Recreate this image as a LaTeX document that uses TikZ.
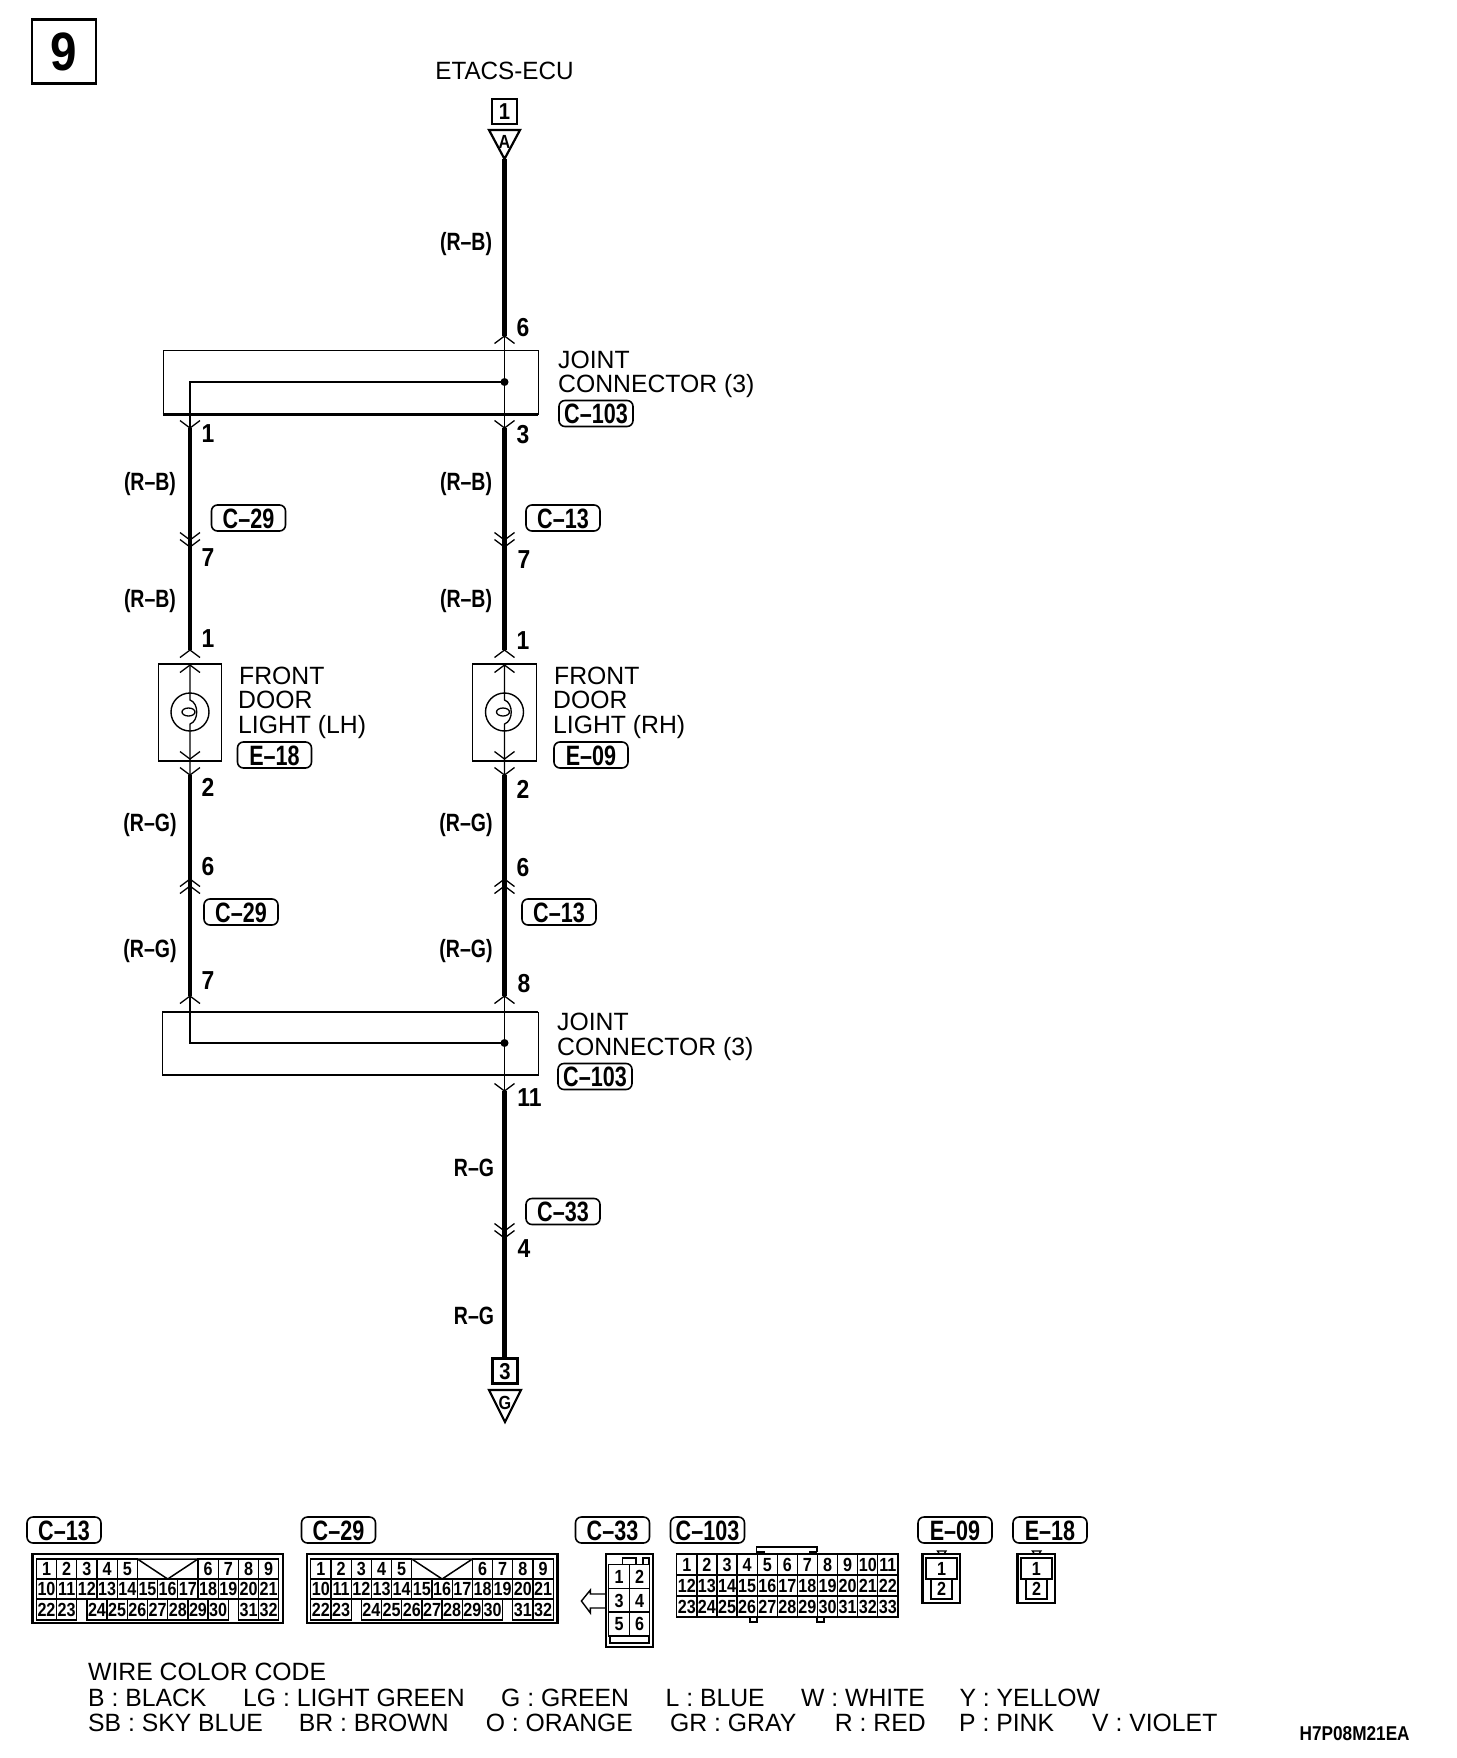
\documentclass[tikz,border=0pt]{standalone}
\usepackage{fontspec}
\setmainfont[FakeStretch=0.99]{Liberation Sans}
\newfontfamily\lbbase[FakeStretch=0.78]{Liberation Sans}
\newfontfamily\pinbase[FakeStretch=0.88]{Liberation Sans}
\newfontfamily\tagbase[FakeStretch=0.77]{Liberation Sans}
\newfontfamily\cellbase[FakeStretch=0.85]{Liberation Sans}
\newfontfamily\etbase[FakeStretch=0.97]{Liberation Sans}
\newfontfamily\codebase[FakeStretch=0.86]{Liberation Sans}
\newcommand\mfont{\fontsize{25pt}{25pt}\selectfont}
\newcommand\efont{\etbase\fontsize{25pt}{25pt}\selectfont}
\newcommand\lbfont{\lbbase\bfseries\fontsize{25pt}{25pt}\selectfont}
\newcommand\pnfont{\pinbase\bfseries\fontsize{26pt}{26pt}\selectfont}
\newcommand\tgfont{\tagbase\bfseries\fontsize{28pt}{28pt}\selectfont}
\newcommand\clfont{\cellbase\bfseries\fontsize{19pt}{19pt}\selectfont}
\newcommand\smfont{\pinbase\bfseries\fontsize{23pt}{23pt}\selectfont}
\newcommand\trfont{\cellbase\bfseries\fontsize{19pt}{19pt}\selectfont}
\newcommand\cdfont{\codebase\bfseries\fontsize{20pt}{20pt}\selectfont}
\newcommand\shfont{\pinbase\bfseries\fontsize{54pt}{54pt}\selectfont}
\tikzset{
  thickw/.style={line width=4.5pt},
  thinw/.style={line width=1.4pt},
  medw/.style={line width=2.4pt},
  txt/.style={inner sep=0pt,anchor=west,font=\mfont,text height=18pt,text depth=0pt},
  lab/.style={inner sep=0pt,font=\lbfont,text height=18pt,text depth=0pt},
  pin/.style={inner sep=0pt,font=\pnfont,text height=18.5pt,text depth=0pt},
  tagbox/.style={draw,line width=1.6pt,rounded corners=6pt,minimum width=74pt,minimum height=26pt,inner sep=0pt,font=\tgfont,text height=20pt,text depth=0pt},
  cell/.style={draw,line width=1.3pt,inner sep=0pt,font=\clfont,text height=13pt,text depth=0pt,minimum width=20.2pt},
  termbox/.style={draw,line width=2.2pt,inner sep=0pt,minimum width=25pt,minimum height=25pt,font=\smfont,text height=16.5pt,text depth=0pt},
  chevd/.pic={\draw[line width=1.3pt] (-10,-7.5)--(0,0)--(10,-7.5);},
  chevu/.pic={\draw[line width=1.3pt] (-10,7.5)--(0,0)--(10,7.5);},
}
\newcommand\wideconn[2]{%
  \begin{scope}[shift={(#2,0)}]
    \draw[line width=2.6pt] (32.5,1554) rectangle (283,1623);
    \draw[line width=1.5pt] (137.4,1559)--(198,1559) (137.4,1559)--(167.7,1579)--(198,1559);
    \foreach \i/\t in {0/1,1/2,2/3,3/4,4/5,8/6,9/7,10/8,11/9}
      \node[cell,minimum height=20pt] (#1-\t) at ({36.4+20.2*(\i+.5)},1569) {\t};
    \foreach \i/\t in {0/10,1/11,2/12,3/13,4/14,5/15,6/16,7/17,8/18,9/19,10/20,11/21}
      \node[cell,minimum height=20pt] (#1-\t) at ({36.4+20.2*(\i+.5)},1589) {\t};
    \foreach \i/\t in {0/22,1/23,2.5/24,3.5/25,4.5/26,5.5/27,6.5/28,7.5/29,8.5/30,10/31,11/32}
      \node[cell,minimum height=21pt] (#1-\t) at ({36.4+20.2*(\i+.5)},1609.5) {\t};
  \end{scope}}
\newcommand\lampsym[2]{%
  \node[draw,line width=1.3pt,minimum width=63.5pt,minimum height=97pt,inner sep=0pt] (#1box) at (#2,712.5) {};
  \node[circle,draw,line width=1.4pt,minimum size=38pt,inner sep=0pt] (#1c) at (#2,712) {};
  \draw[line width=1.3pt] (#2-1.5,712) ellipse [x radius=6.5pt,y radius=4pt];
  \draw[line width=1.3pt] (#2,665) -- (#2,700) .. controls (#2+9,703) and (#2+9,721) .. (#2,724) -- (#2,775);
  \pic at (#2,665) {chevu};
  \pic at (#2,759) {chevd};
}
\begin{document}
\begin{tikzpicture}[x=1pt,y=-1pt]
\useasboundingbox (0,0) rectangle (1456,1758);
\fill[white] (0,0) rectangle (1456,1758);

% sheet number
\node[draw,line width=2.6pt,minimum width=64pt,minimum height=64pt,inner sep=0pt,font=\shfont,text height=38pt,text depth=0pt] (sheet) at (64,51.5) {9};

% top terminal
\node[txt,font=\efont,anchor=center] (ecu) at (504.5,71) {ETACS-ECU};
\node[termbox] (t1) at (504.5,111.5) {1};
\draw[line width=2.2pt,line join=miter] (489,130)--(520,130)--(504.5,159)--cycle;
\node[inner sep=0pt,font=\trfont,text height=14pt,text depth=0pt] (tA) at (504.5,141) {A};

% coordinates on the wires
\foreach \n/\y in {apex/159,six/336,three/428,one/650,two/775,eight/996,eleven/1091,bot/1358}
  \coordinate (r\n) at (504.5,\y);
\foreach \n/\y in {top/382,one/650,two/775,seven/996,bottom/1043,three/428}
  \coordinate (l\n) at (190,\y);

% joint connectors
\node[draw,line width=0.9pt,minimum width=375pt,minimum height=64pt,inner sep=0pt] (jc1) at (350.5,382) {};
\draw[medw] (jc1.south west)--(jc1.south east);
\node[draw,line width=0.9pt,minimum width=375.5pt,minimum height=63pt,inner sep=0pt] (jc2) at (350.25,1043.5) {};
\draw[line width=2pt] (jc2.south west)--(jc2.south east);
\draw[line width=2pt] (jc2.north west)--(jc2.north east);

% wires, right
\draw[thickw] (rapex)--(rsix);
\draw[thinw] (rsix)--(rthree);
\draw[thickw] (rthree)--(rone);
\draw[thickw] (rtwo)--(reight);
\draw[thinw] (reight)--(releven);
\draw[thickw] (releven)--(rbot);
% wires, left
\draw[medw,line join=miter] (ltop-|rsix) -- (ltop) -- (lthree);
\draw[thickw] (lthree)--(lone);
\draw[thickw] (ltwo)--(lseven);
\draw[medw,line join=miter] (lseven)--(lbottom)--(lbottom-|rsix);
\fill (ltop-|rsix) circle [radius=4pt];
\fill (lbottom-|rsix) circle [radius=4pt];
% arrows on joint connectors
\pic at (rsix) {chevu};
\pic at (rthree) {chevd};
\pic at (lthree) {chevd};
\pic at (rone) {chevu};
\pic at (lone) {chevu};
\pic at (rtwo) {chevd};
\pic at (ltwo) {chevd};
\pic at (reight) {chevu};
\pic at (lseven) {chevu};
\pic at (releven) {chevd};
% double chevrons
\foreach \x in {190,504.5}{
  \pic at (\x,540) {chevd};
  \pic at (\x,547) {chevd};
  \pic at (\x,879) {chevu};
  \pic at (\x,886) {chevu};
}
\pic at (504.5,1231) {chevd};
\pic at (504.5,1238) {chevd};

% lamps
\lampsym{lampL}{190}
\lampsym{lampR}{504.5}

% bottom terminal
\node[termbox] (t3) at (505,1371) {3};
\draw[line width=2.2pt,line join=miter] (489,1390)--(521,1390)--(505,1422)--cycle;
\node[inner sep=0pt,font=\trfont,text height=14pt,text depth=0pt] (tG) at (505,1402) {G};

% pin numbers
\node[pin] (n6a) at (523,327) {6};
\node[pin] (n1a) at (208,433) {1};
\node[pin] (n3a) at (523,434) {3};
\node[pin] (n7l) at (208,557) {7};
\node[pin] (n7r) at (524,559) {7};
\node[pin] (n1l) at (208,638) {1};
\node[pin] (n1r) at (523,640) {1};
\node[pin] (n2l) at (208,787) {2};
\node[pin] (n2r) at (523,789) {2};
\node[pin] (n6l) at (208,866) {6};
\node[pin] (n6r) at (523,867) {6};
\node[pin] (n7b) at (208,980) {7};
\node[pin] (n8b) at (524,983) {8};
\node[pin] (n11) at (529.5,1097) {11};
\node[pin] (n4) at (524,1248) {4};

% wire colour labels
\node[lab] (w1) at (466,241) {(R–B)};
\node[lab] (w2) at (150,481.5) {(R–B)};
\node[lab] (w3) at (466,481.5) {(R–B)};
\node[lab] (w4) at (150,598) {(R–B)};
\node[lab] (w5) at (466,598) {(R–B)};
\node[lab] (w6) at (150,822) {(R–G)};
\node[lab] (w7) at (466,822) {(R–G)};
\node[lab] (w8) at (150,948) {(R–G)};
\node[lab] (w9) at (466,948) {(R–G)};
\node[lab] (w10) at (474,1167) {R–G};
\node[lab] (w11) at (474,1315) {R–G};

% component text
\node[txt] (j1a) at (558,359) {JOINT};
\node[txt] (j1b) at (558,383) {CONNECTOR (3)};
\node[txt] (j2a) at (557,1021) {JOINT};
\node[txt] (j2b) at (557,1046) {CONNECTOR (3)};
\node[txt] (fl1) at (239,675) {FRONT};
\node[txt] (fl2) at (238,699) {DOOR};
\node[txt] (fl3) at (238,724) {LIGHT (LH)};
\node[txt] (fr1) at (554,675) {FRONT};
\node[txt] (fr2) at (553,699) {DOOR};
\node[txt] (fr3) at (553,724) {LIGHT (RH)};

% connector tags on the diagram
\node[tagbox] (tj1) at (596,413.5) {C–103};
\node[tagbox] (tj2) at (595,1076.5) {C–103};
\node[tagbox] (tc29a) at (248.5,518) {C–29};
\node[tagbox] (tc13a) at (563,518) {C–13};
\node[tagbox] (te18) at (274.5,755) {E–18};
\node[tagbox] (te09) at (591,755) {E–09};
\node[tagbox] (tc29b) at (241,912) {C–29};
\node[tagbox] (tc13b) at (559,912) {C–13};
\node[tagbox] (tc33a) at (563,1211.5) {C–33};

% connector tags in the key
\node[tagbox] (kc13) at (64,1530) {C–13};
\node[tagbox] (kc29) at (338.5,1530) {C–29};
\node[tagbox] (kc33) at (612.5,1530) {C–33};
\node[tagbox] (kc103) at (707.5,1530) {C–103};
\node[tagbox] (ke09) at (955,1530) {E–09};
\node[tagbox] (ke18) at (1050,1530) {E–18};

% wide connectors
\wideconn{c13}{0}
\wideconn{c29}{274.4}

% C-33
\draw[line width=2.4pt] (605.7,1554) rectangle (653,1647);
\draw[line width=1.5pt] (622.5,1565)--(622.5,1558)--(636,1558)--(636,1565);
\draw[line width=1.5pt] (643,1565)--(643,1558)--(649,1558)--(649,1565);
\foreach \i/\x/\y in {1/619/1576.5,2/639.5/1576.5,3/619/1600.5,4/639.5/1600.5,5/619/1624,6/639.5/1624}
  \node[cell,minimum width=20.5pt,minimum height=24pt] (c33-\i) at (\x,\y) {\i};
\draw[line width=1.5pt] (610,1636)--(610,1643)--(649,1643)--(649,1636);
\draw[line width=1.4pt] (605.7,1594)--(590.4,1594)--(590.4,1590)--(581.4,1601)--(590.4,1613)--(590.4,1608)--(605.7,1608);

% C-103
\draw[line width=1.5pt] (756.4,1552)--(756.4,1547)--(817,1547)--(817,1552) (756.4,1552)--(764,1552)--(764,1554) (817,1552)--(810,1552)--(810,1554);
\draw[line width=1.5pt] (750,1617)--(750,1622)--(757,1622)--(757,1617) (817,1617)--(817,1622)--(824,1622)--(824,1617);
\foreach \n in {1,...,33}{
  \pgfmathtruncatemacro\cc{mod(\n-1,11)}
  \pgfmathtruncatemacro\rr{(\n-1)/11}
  \node[cell,minimum width=20.1pt,minimum height=21pt] (c103-\n) at ({676.8+20.1*(\cc+.5)},{1564.5+21*\rr}) {\n};
}

% E-09 and E-18
\foreach \p/\d in {e09/0,e18/94.9}{
  \begin{scope}[shift={(\d,0)}]
    \draw[line width=2.2pt] (922.5,1554) rectangle (960,1603);
    \draw[line width=1.3pt] (937.5,1551)--(946,1551)--(944,1554)--(939.5,1554)--cycle;
    \node[cell,line width=2pt,minimum width=31pt,minimum height=21pt] (\p-1) at (941.5,1568.5) {1};
    \node[cell,line width=2pt,minimum width=20.6pt,minimum height=20pt] (\p-2) at (941.7,1589) {2};
  \end{scope}
}

% wire colour code
\node[txt] (cc0) at (88,1671) {WIRE COLOR CODE};
\node[txt] (cc1) at (88,1697) {B : BLACK};
\node[txt] (cc2) at (243,1697) {LG : LIGHT GREEN};
\node[txt] (cc3) at (501,1697) {G : GREEN};
\node[txt] (cc4) at (665.5,1697) {L : BLUE};
\node[txt] (cc5) at (801,1697) {W : WHITE};
\node[txt] (cc6) at (959.4,1697) {Y : YELLOW};
\node[txt] (cc7) at (88,1722) {SB : SKY BLUE};
\node[txt] (cc8) at (298.6,1722) {BR : BROWN};
\node[txt] (cc9) at (485.6,1722) {O : ORANGE};
\node[txt] (cc10) at (670,1722) {GR : GRAY};
\node[txt] (cc11) at (834.7,1722) {R : RED};
\node[txt] (cc12) at (959,1722) {P : PINK};
\node[txt] (cc13) at (1092,1722) {V : VIOLET};
\node[inner sep=0pt,anchor=west,font=\cdfont,text height=14pt,text depth=0pt] (code) at (1299.5,1733) {H7P08M21EA};
\end{tikzpicture}
\end{document}
